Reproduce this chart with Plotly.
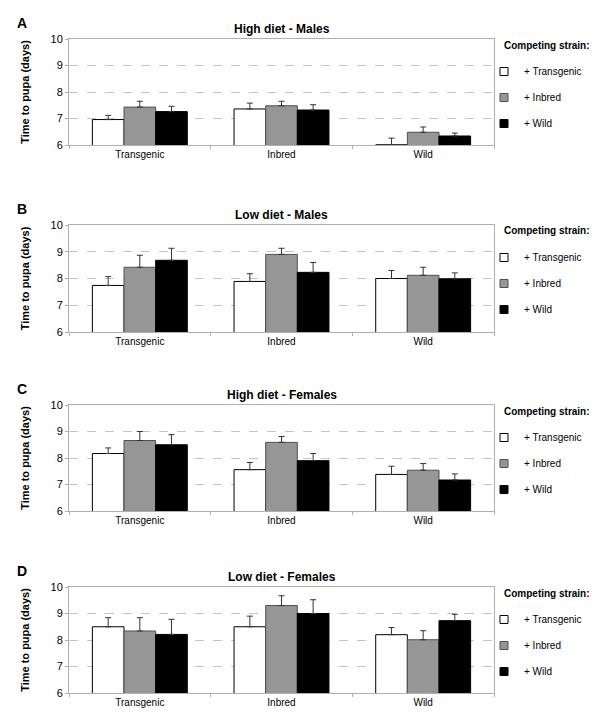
import plotly.graph_objects as go

categories = ["Transgenic", "Inbred", "Wild"]
series_names = ["+ Transgenic", "+ Inbred", "+ Wild"]
panel_letters = ["A", "B", "C", "D"]
panel_titles = ["High diet - Males", "Low diet - Males", "High diet - Females", "Low diet - Females"]

# means [panel][series][category]
means_A = [[6.96, 7.36, 6.01], [7.43, 7.48, 6.48], [7.26, 7.32, 6.34]]
errs_A = [[0.16, 0.22, 0.25], [0.22, 0.17, 0.20], [0.20, 0.20, 0.11]]
means_B = [[7.74, 7.89, 8.00], [8.42, 8.90, 8.12], [8.68, 8.23, 7.99]]
errs_B = [[0.33, 0.29, 0.30], [0.45, 0.23, 0.30], [0.45, 0.37, 0.22]]
means_C = [[8.17, 7.56, 7.38], [8.66, 8.59, 7.54], [8.50, 7.90, 7.17]]
errs_C = [[0.21, 0.27, 0.31], [0.34, 0.22, 0.25], [0.38, 0.27, 0.23]]
means_D = [[8.50, 8.50, 8.20], [8.34, 9.30, 8.01], [8.21, 9.00, 8.73]]
errs_D = [[0.34, 0.40, 0.27], [0.50, 0.37, 0.34], [0.57, 0.52, 0.24]]

y_ticks = [6, 7, 8, 9, 10]

all_means = [means_A, means_B, means_C, means_D]
all_errs = [errs_A, errs_B, errs_C, errs_D]

fills = ["#ffffff", "#969696", "#000000"]
outlines = ["#000000", "#505050", "#000000"]

# page body has an 8px margin; figure is sized to fit the 600x728 window
OFF = 8
W, H = 600 - 2 * OFF, 728 - 2 * OFF


def fx(px):
    return (px - OFF) / W


def fy(py):
    return 1 - (py - OFF) / H


x0, x1 = 69, 494
panel_px = [(39, 145), (225, 332), (405, 511), (587, 693)]  # top, bottom (window pixels)

FONT = "Arial, Liberation Sans, sans-serif"

fig = go.Figure()
layout = dict(
    width=W, height=H,
    margin=dict(l=0, r=0, t=0, b=0, autoexpand=False),
    paper_bgcolor="white", plot_bgcolor="white",
    barmode="group", bargap=0.33, bargroupgap=0.0,
    font=dict(family=FONT, size=11, color="#000000"),
    annotations=[], showlegend=True,
)

for p in range(4):
    xa = "x" if p == 0 else f"x{p+1}"
    ya = "y" if p == 0 else f"y{p+1}"
    lg = "legend" if p == 0 else f"legend{p+1}"
    for s in range(3):
        fig.add_trace(go.Bar(
            x=categories, y=all_means[p][s], name=series_names[s],
            marker=dict(color=fills[s], line=dict(color=outlines[s], width=1)),
            error_y=dict(type="data", symmetric=False, array=all_errs[p][s],
                         arrayminus=[0, 0, 0], color="#333333", thickness=1, width=3),
            xaxis=xa, yaxis=ya, showlegend=False,
        ))
    for s in range(3):
        fig.add_trace(go.Scatter(
            x=[None], y=[None], mode="markers", name=series_names[s],
            marker=dict(symbol="square", size=8, color=fills[s],
                        line=dict(color=outlines[s], width=1)),
            xaxis=xa, yaxis=ya, legend=lg, legendgroup=f"{p}-{s}",
        ))
    top, bot = panel_px[p]
    xkey = "xaxis" if p == 0 else f"xaxis{p+1}"
    ykey = "yaxis" if p == 0 else f"yaxis{p+1}"
    layout[xkey] = dict(
        domain=[fx(x0), fx(x1)], anchor=ya, type="category",
        showline=True, linecolor="#b0b0b0", linewidth=1, mirror=True,
        ticks="outside", tickson="boundaries", ticklen=3, tickcolor="#b0b0b0",
        tickfont=dict(size=10, family=FONT), showgrid=False, fixedrange=True,
    )
    layout[ykey] = dict(
        domain=[fy(bot), fy(top)], anchor=xa, range=[6, 10], tickvals=y_ticks,
        showline=True, linecolor="#b0b0b0", linewidth=1, mirror=True,
        ticks="outside", ticklen=3, tickcolor="#b0b0b0",
        showgrid=True, gridcolor="#c4c4c4", griddash="dash", gridwidth=1,
        zeroline=False, tickfont=dict(size=11, family=FONT),
        title=dict(text="<b>Time to pupa (days)</b>", font=dict(size=11, family=FONT), standoff=18),
    )
    layout[lg] = dict(
        x=fx(484), xanchor="left", y=fy(top + 18), yanchor="top",
        traceorder="grouped", tracegroupgap=7, font=dict(size=10, family=FONT),
        bgcolor="rgba(0,0,0,0)", itemclick=False,
    )
    layout["annotations"].append(dict(
        text=f"<b>{panel_titles[p]}</b>", x=fx((x0 + x1) / 2), y=fy(top - 10),
        xref="paper", yref="paper", showarrow=False, font=dict(size=12, family=FONT),
        xanchor="center", yanchor="middle"))
    layout["annotations"].append(dict(
        text=f"<b>{panel_letters[p]}</b>", x=fx(15), y=fy(top - 16),
        xref="paper", yref="paper", showarrow=False, font=dict(size=14, family=FONT),
        xanchor="left", yanchor="middle"))
    layout["annotations"].append(dict(
        text="<b>Competing strain:</b>", x=fx(502), y=fy(top + 6),
        xref="paper", yref="paper", showarrow=False, font=dict(size=10, family=FONT),
        xanchor="left", yanchor="middle"))

fig.update_layout(**layout)
fig.write_html("out.html")
